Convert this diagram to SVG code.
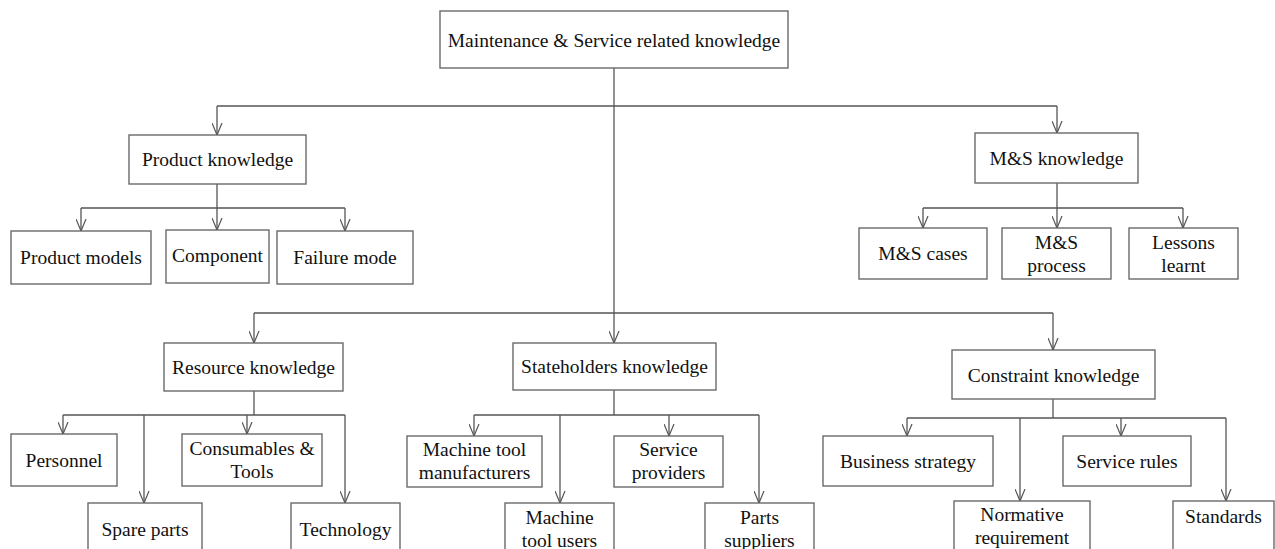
<svg xmlns="http://www.w3.org/2000/svg" width="1275" height="549" viewBox="0 0 1275 549">
  <style>
    .box { fill: #ffffff; stroke: #6a6a6a; stroke-width: 1.4; }
    .lbl { font-family: "Liberation Serif", "Times New Roman", serif; font-size: 19.5px; fill: #111; text-anchor: middle; }
    .wire { fill: none; stroke: #555; stroke-width: 1.3; }
  </style>
  <defs>
    <marker id="vhead" viewBox="0 0 13 11" refX="12.5" refY="5.5" markerWidth="13" markerHeight="11" markerUnits="userSpaceOnUse" orient="auto">
      <path d="M0.5,0.5 L12.5,5.5 L0.5,10.5" fill="none" stroke="#555" stroke-width="1.2"/>
    </marker>
  </defs>

  <rect width="1275" height="549" fill="#ffffff"/>

  <!-- connectors -->
  <g id="connectors" class="wire">
    <!-- root level -->
    <line x1="614" y1="68" x2="614" y2="313"/>
    <line x1="217" y1="106" x2="1057" y2="106"/>
    <line x1="217" y1="106" x2="217" y2="135" marker-end="url(#vhead)"/>
    <line x1="1057" y1="106" x2="1057" y2="133" marker-end="url(#vhead)"/>
    <!-- product knowledge -->
    <line x1="217" y1="184" x2="217" y2="208"/>
    <line x1="81" y1="208" x2="345" y2="208"/>
    <line x1="81" y1="208" x2="81" y2="231" marker-end="url(#vhead)"/>
    <line x1="217" y1="208" x2="217" y2="230" marker-end="url(#vhead)"/>
    <line x1="345" y1="208" x2="345" y2="231" marker-end="url(#vhead)"/>
    <!-- M&S knowledge -->
    <line x1="1057" y1="183" x2="1057" y2="208"/>
    <line x1="923" y1="208" x2="1183" y2="208"/>
    <line x1="923" y1="208" x2="923" y2="228" marker-end="url(#vhead)"/>
    <line x1="1057" y1="208" x2="1057" y2="228" marker-end="url(#vhead)"/>
    <line x1="1183" y1="208" x2="1183" y2="228" marker-end="url(#vhead)"/>
    <!-- lower branch -->
    <line x1="254" y1="313" x2="1053" y2="313"/>
    <line x1="254" y1="313" x2="254" y2="343" marker-end="url(#vhead)"/>
    <line x1="614" y1="313" x2="614" y2="343" marker-end="url(#vhead)"/>
    <line x1="1053" y1="313" x2="1053" y2="350" marker-end="url(#vhead)"/>
    <!-- resource knowledge -->
    <line x1="254" y1="391" x2="254" y2="415"/>
    <line x1="63" y1="415" x2="345" y2="415"/>
    <line x1="63" y1="415" x2="63" y2="434" marker-end="url(#vhead)"/>
    <line x1="144" y1="415" x2="144" y2="503" marker-end="url(#vhead)"/>
    <line x1="247" y1="415" x2="247" y2="434" marker-end="url(#vhead)"/>
    <line x1="345" y1="415" x2="345" y2="503" marker-end="url(#vhead)"/>
    <!-- stateholders knowledge -->
    <line x1="614" y1="390" x2="614" y2="415"/>
    <line x1="474" y1="415" x2="759" y2="415"/>
    <line x1="474" y1="415" x2="474" y2="436" marker-end="url(#vhead)"/>
    <line x1="560" y1="415" x2="560" y2="503" marker-end="url(#vhead)"/>
    <line x1="669" y1="415" x2="669" y2="436" marker-end="url(#vhead)"/>
    <line x1="759" y1="415" x2="759" y2="503" marker-end="url(#vhead)"/>
    <!-- constraint knowledge -->
    <line x1="1053" y1="399" x2="1053" y2="418"/>
    <line x1="907" y1="418" x2="1226" y2="418"/>
    <line x1="907" y1="418" x2="907" y2="436" marker-end="url(#vhead)"/>
    <line x1="1020" y1="418" x2="1020" y2="501" marker-end="url(#vhead)"/>
    <line x1="1121" y1="418" x2="1121" y2="436" marker-end="url(#vhead)"/>
    <line x1="1226" y1="418" x2="1226" y2="501" marker-end="url(#vhead)"/>
  </g>

  <!-- nodes -->
  <g id="root">
    <rect class="box" x="440" y="11" width="348" height="57"/>
    <text class="lbl" x="614" y="47">Maintenance &amp; Service related knowledge</text>
  </g>

  <g id="product-knowledge">
    <rect class="box" x="129" y="135" width="177" height="49"/>
    <text class="lbl" x="217.5" y="166">Product knowledge</text>
  </g>
  <g id="product-models">
    <rect class="box" x="11" y="231" width="140" height="53"/>
    <text class="lbl" x="81" y="264">Product models</text>
  </g>
  <g id="component">
    <rect class="box" x="166" y="230" width="103" height="53"/>
    <text class="lbl" x="217.5" y="262">Component</text>
  </g>
  <g id="failure-mode">
    <rect class="box" x="277" y="231" width="136" height="53"/>
    <text class="lbl" x="345" y="264">Failure mode</text>
  </g>

  <g id="ms-knowledge">
    <rect class="box" x="975" y="133" width="163" height="50"/>
    <text class="lbl" x="1056.5" y="165">M&amp;S knowledge</text>
  </g>
  <g id="ms-cases">
    <rect class="box" x="859" y="228" width="128" height="51"/>
    <text class="lbl" x="923" y="260">M&amp;S cases</text>
  </g>
  <g id="ms-process">
    <rect class="box" x="1002" y="228" width="109" height="51"/>
    <text class="lbl" x="1056.5" y="249">M&amp;S</text>
    <text class="lbl" x="1056.5" y="272">process</text>
  </g>
  <g id="lessons-learnt">
    <rect class="box" x="1129" y="228" width="109" height="51"/>
    <text class="lbl" x="1183.5" y="249">Lessons</text>
    <text class="lbl" x="1183.5" y="272">learnt</text>
  </g>

  <g id="resource-knowledge">
    <rect class="box" x="164" y="343" width="179" height="48"/>
    <text class="lbl" x="253.5" y="374">Resource knowledge</text>
  </g>
  <g id="personnel">
    <rect class="box" x="11" y="434" width="106" height="52"/>
    <text class="lbl" x="64" y="467">Personnel</text>
  </g>
  <g id="consumables-tools">
    <rect class="box" x="182" y="434" width="140" height="52"/>
    <text class="lbl" x="252" y="455">Consumables &amp;</text>
    <text class="lbl" x="252" y="478">Tools</text>
  </g>
  <g id="spare-parts">
    <rect class="box" x="88" y="503" width="114" height="60"/>
    <text class="lbl" x="145" y="536">Spare parts</text>
  </g>
  <g id="technology">
    <rect class="box" x="291" y="503" width="109" height="60"/>
    <text class="lbl" x="345.5" y="536">Technology</text>
  </g>

  <g id="stateholders-knowledge">
    <rect class="box" x="513" y="343" width="203" height="47"/>
    <text class="lbl" x="614.5" y="373">Stateholders knowledge</text>
  </g>
  <g id="machine-tool-manufacturers">
    <rect class="box" x="407" y="436" width="135" height="51"/>
    <text class="lbl" x="474.5" y="456">Machine tool</text>
    <text class="lbl" x="474.5" y="479">manufacturers</text>
  </g>
  <g id="service-providers">
    <rect class="box" x="614" y="436" width="109" height="51"/>
    <text class="lbl" x="668.5" y="456">Service</text>
    <text class="lbl" x="668.5" y="479">providers</text>
  </g>
  <g id="machine-tool-users">
    <rect class="box" x="505" y="503" width="109" height="60"/>
    <text class="lbl" x="559.5" y="524">Machine</text>
    <text class="lbl" x="559.5" y="547">tool users</text>
  </g>
  <g id="parts-suppliers">
    <rect class="box" x="705" y="503" width="109" height="60"/>
    <text class="lbl" x="759.5" y="524">Parts</text>
    <text class="lbl" x="759.5" y="547">suppliers</text>
  </g>

  <g id="constraint-knowledge">
    <rect class="box" x="952" y="350" width="203" height="49"/>
    <text class="lbl" x="1053.5" y="382">Constraint knowledge</text>
  </g>
  <g id="business-strategy">
    <rect class="box" x="823" y="436" width="170" height="50"/>
    <text class="lbl" x="908" y="468">Business strategy</text>
  </g>
  <g id="service-rules">
    <rect class="box" x="1063" y="436" width="128" height="50"/>
    <text class="lbl" x="1127" y="468">Service rules</text>
  </g>
  <g id="normative-requirement">
    <rect class="box" x="954" y="501" width="136" height="60"/>
    <text class="lbl" x="1022" y="521">Normative</text>
    <text class="lbl" x="1022" y="544">requirement</text>
  </g>
  <g id="standards">
    <rect class="box" x="1173" y="501" width="101" height="60"/>
    <text class="lbl" x="1223.5" y="523">Standards</text>
  </g>
</svg>
